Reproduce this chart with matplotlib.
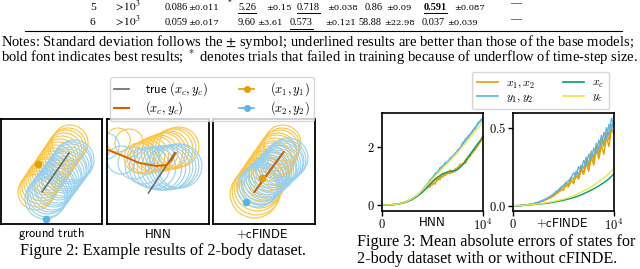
import numpy as np
import matplotlib
matplotlib.use('Agg')
import matplotlib.pyplot as plt
from matplotlib.patches import Circle
from matplotlib.lines import Line2D

plt.rcParams['mathtext.fontset'] = 'cm'
plt.rcParams['font.family'] = 'Liberation Serif'

W, H = 640, 269

# ---- table fragment ----
row_ids = ['5', '6']
row_mean = [['0.086', '5.26', '0.718', '0.86', '0.591'],
            ['0.059', '9.60', '0.573', '58.88', '0.037']]
row_std = [['±0.011', '±0.15', '±0.038', '±0.09', '±0.087'],
           ['±0.017', '±3.61', '±0.121', '±22.98', '±0.039']]
row_under = [[False, True, True, False, True],
             [False, False, True, False, False]]
row_bold = [[False, False, False, False, True],
            [False, False, False, False, False]]

notes = ['Notes: Standard deviation follows the $\\pm$ symbol; underlined results are better than those of the base models;',
         'bold font indicates best results; $^*$ denotes trials that failed in training because of underflow of time-step size.']

# ---- figure 2: ring centres / radii (panel units) ----
gt_o_cx = [35, 37, 39, 41, 43, 45, 47, 49, 51, 53, 55, 57, 59, 61, 63, 65, 67, 69]
gt_o_cy = [32, 35, 38, 41, 44, 47, 49, 52, 55, 58, 61, 64, 67, 70, 73, 76, 78, 81]
gt_o_r = [18] * 18
gt_b_cx = [44, 46, 47, 49, 51, 53, 54, 56, 58, 60, 61, 63, 65, 66, 68, 70, 71, 73]
gt_b_cy = [25, 27, 30, 32, 34, 37, 39, 41, 44, 46, 48, 51, 53, 55, 57, 60, 62, 64]
gt_b_r = [20] * 18
gt_true = ([41, 68], [32, 71])
gt_pred = None
gt_dots = ((37, 60), (45, 5))

hnn_o_cx = [11, 22, 32, 36, 40, 44, 48, 52, 56, 59, 62, 65, 68, 71]
hnn_o_cy = [84, 81, 66, 66, 67, 69, 70, 71, 72, 73, 74, 75, 76, 77]
hnn_o_r = [12, 14, 15, 16, 17, 17, 18, 18, 19, 19, 19, 20, 20, 20]
hnn_b_cx = [-1, 14, 27, 36, 42, 47, 52, 56, 60, 63, 66, 69, 72]
hnn_b_cy = [78, 64, 61, 58, 57, 56, 56, 56, 56, 57, 57, 58, 58]
hnn_b_r = [13, 14, 16, 18, 20, 21, 22, 22, 22, 22, 22, 22, 22]
hnn_true = ([41, 67], [31, 71])
hnn_pred = ([1, 16, 32, 49, 59, 64, 68], [74, 68, 61, 58, 59, 64, 71])
hnn_dots = None

cf_o_cx = [41, 43, 44, 46, 48, 49, 51, 53, 54, 56, 58, 59, 61, 63, 64, 66, 68, 69]
cf_o_cy = [30, 33, 36, 39, 42, 45, 48, 51, 54, 57, 60, 63, 66, 69, 72, 75, 78, 81]
cf_o_r = [24, 24, 23, 23, 23, 22, 22, 22, 21, 21, 21, 20, 20, 20, 19, 19, 18, 18]
cf_b_cx = [44, 46, 48, 49, 51, 53, 55, 56, 58, 60, 62, 63, 65, 67, 69, 70, 72, 74]
cf_b_cy = [37, 39, 40, 42, 44, 46, 47, 49, 51, 52, 54, 56, 58, 59, 61, 63, 64, 66]
cf_b_r = [20] * 18
cf_true = ([41, 69], [32, 71])
cf_pred = ([41, 70], [32, 72])
cf_dots = ((49, 46), (33, 22))

# ---- figure 3: mean absolute errors ----
steps = np.linspace(0, 10000, 41)
steps_s = np.linspace(0, 10000, 21)

hnn_x1 = [0, 0, 0, 0.005, 0.01, 0.02, 0.03, 0.04, 0.06, 0.09, 0.12, 0.16, 0.20, 0.25, 0.31, 0.38, 0.47, 0.55, 0.68, 0.62,
          0.80, 0.72, 0.95, 0.88, 1.10, 1.02, 1.15, 1.08, 1.20, 1.16, 1.28, 1.35, 1.46, 1.44, 1.62, 1.70, 1.86, 1.92, 2.10, 2.18, 2.45]
hnn_x2 = [0, 0, 0, 0.005, 0.01, 0.02, 0.03, 0.05, 0.07, 0.09, 0.13, 0.17, 0.21, 0.27, 0.33, 0.40, 0.52, 0.60, 0.58, 0.75,
          0.70, 0.90, 0.85, 1.00, 0.96, 1.12, 1.08, 1.22, 1.12, 1.25, 1.30, 1.42, 1.40, 1.56, 1.66, 1.78, 1.82, 2.00, 2.05, 2.25, 2.40]
hnn_y1 = [0, 0, 0, 0.005, 0.01, 0.02, 0.03, 0.05, 0.07, 0.10, 0.13, 0.17, 0.22, 0.28, 0.35, 0.43, 0.52, 0.62, 0.74, 0.84,
          0.96, 1.04, 1.16, 1.22, 1.36, 1.40, 1.52, 1.58, 1.70, 1.80, 1.86, 2.00, 2.10, 2.30, 2.32, 2.48, 2.56, 2.72, 2.80, 2.96, 3.04]
hnn_y2 = [0, 0, 0, 0.005, 0.01, 0.02, 0.03, 0.05, 0.07, 0.10, 0.13, 0.17, 0.22, 0.28, 0.34, 0.42, 0.50, 0.64, 0.70, 0.88,
          0.92, 1.10, 1.12, 1.30, 1.32, 1.48, 1.46, 1.64, 1.66, 1.78, 1.92, 1.96, 2.18, 2.20, 2.40, 2.44, 2.62, 2.66, 2.86, 2.90, 2.98]
hnn_xc = [0, 0, 0.01, 0.025, 0.06, 0.11, 0.19, 0.30, 0.44, 0.62, 0.82, 0.97, 1.08, 1.15, 1.18, 1.23, 1.40, 1.64, 1.90, 2.14, 2.36]
hnn_yc = [0, 0, 0.01, 0.03, 0.07, 0.13, 0.22, 0.34, 0.51, 0.71, 0.91, 1.10, 1.28, 1.46, 1.64, 1.83, 2.04, 2.26, 2.48, 2.68, 2.90]

cf_x1 = [0, 0, 0, 0.001, 0.002, 0.004, 0.006, 0.008, 0.011, 0.015, 0.019, 0.025, 0.030, 0.038, 0.045, 0.052, 0.062, 0.075, 0.085, 0.10,
         0.11, 0.13, 0.12, 0.16, 0.15, 0.19, 0.17, 0.23, 0.20, 0.27, 0.22, 0.31, 0.26, 0.36, 0.30, 0.39, 0.33, 0.44, 0.38, 0.49, 0.46]
cf_x2 = [0, 0, 0, 0.001, 0.002, 0.004, 0.006, 0.009, 0.012, 0.016, 0.020, 0.026, 0.032, 0.040, 0.048, 0.056, 0.066, 0.078, 0.090, 0.108,
         0.098, 0.14, 0.13, 0.17, 0.14, 0.21, 0.18, 0.25, 0.21, 0.29, 0.25, 0.34, 0.29, 0.38, 0.33, 0.43, 0.38, 0.47, 0.42, 0.52, 0.50]
cf_y1 = [0, 0, 0, 0.001, 0.003, 0.005, 0.007, 0.010, 0.013, 0.017, 0.022, 0.028, 0.034, 0.042, 0.050, 0.060, 0.072, 0.085, 0.100, 0.115,
         0.125, 0.145, 0.140, 0.18, 0.17, 0.22, 0.20, 0.26, 0.24, 0.31, 0.27, 0.35, 0.31, 0.40, 0.36, 0.45, 0.40, 0.50, 0.45, 0.56, 0.52]
cf_y2 = [0, 0, 0, 0.001, 0.003, 0.005, 0.007, 0.010, 0.013, 0.018, 0.023, 0.029, 0.036, 0.044, 0.053, 0.063, 0.075, 0.09, 0.10, 0.12,
         0.13, 0.15, 0.16, 0.18, 0.21, 0.20, 0.25, 0.23, 0.29, 0.26, 0.33, 0.30, 0.37, 0.34, 0.42, 0.38, 0.47, 0.43, 0.52, 0.48, 0.57]
cf_xc = [0, 0.001, 0.002, 0.004, 0.007, 0.010, 0.013, 0.017, 0.022, 0.028, 0.035, 0.043, 0.052, 0.063, 0.077, 0.092, 0.108, 0.127, 0.148, 0.172, 0.205]
cf_yc = [0, 0.001, 0.002, 0.005, 0.008, 0.012, 0.016, 0.021, 0.027, 0.034, 0.042, 0.051, 0.062, 0.080, 0.095, 0.110, 0.132, 0.155, 0.180, 0.205, 0.240]

ORANGE, SKY, GREEN, YELLOW, VERM = '#E69F00', '#56B4E9', '#009E73', '#F0E442', '#D55E00'
RING_O, RING_B = '#FDC443', '#97D0F0'

fig = plt.figure(figsize=(W / 100, H / 100), dpi=100)


def fx(x):
    return x / W


def fy(y):
    return 1 - y / H


def px_axes(x0, y0, x1, y1):
    return fig.add_axes([fx(x0), fy(y1), (x1 - x0) / W, (y1 - y0) / H])


# table rows
mean_x = [[165, 238, 297, 365, 424], [165, 238, 290, 358, 422]]
std_x = [[188, 266, 327, 386, 454], [188, 257, 325, 384, 447]]
base_y = [9.5, 25]
underlined = []
for i in range(2):
    fig.text(fx(90), fy(base_y[i]), row_ids[i], fontsize=8.2, va='baseline')
    fig.text(fx(114), fy(base_y[i]), r'$>\!10^3$', fontsize=8.2, va='baseline', math_fontfamily='stix')
    for j in range(5):
        t = fig.text(fx(mean_x[i][j]), fy(base_y[i]), row_mean[i][j], fontsize=7.4, va='baseline',
                     fontweight='bold' if row_bold[i][j] else 'normal')
        if row_under[i][j]:
            underlined.append(t)
        fig.text(fx(std_x[i][j]), fy(base_y[i]), row_std[i][j], fontsize=6.0, va='baseline', family='DejaVu Serif')
    fig.text(fx(510), fy(base_y[i] - 3), '—', fontsize=8, va='baseline')
fig.text(fx(228), fy(5), '*', fontsize=5.5, va='baseline')
fig.add_artist(Line2D([fx(25), fx(622)], [fy(31), fy(31)], color='black', lw=0.8))

fig.text(fx(1), fy(46), notes[0], fontsize=10.5, va='baseline', math_fontfamily='stix')
fig.text(fx(1), fy(62), notes[1], fontsize=10.5, va='baseline', math_fontfamily='stix')

# figure 2 panels
panels = [
    ((1, 119, 102, 224), gt_o_cx, gt_o_cy, gt_o_r, gt_b_cx, gt_b_cy, gt_b_r, gt_true, gt_pred, gt_dots),
    ((107, 119, 209, 224), hnn_o_cx, hnn_o_cy, hnn_o_r, hnn_b_cx, hnn_b_cy, hnn_b_r, hnn_true, hnn_pred, hnn_dots),
    ((213, 119, 315, 224), cf_o_cx, cf_o_cy, cf_o_r, cf_b_cx, cf_b_cy, cf_b_r, cf_true, cf_pred, cf_dots),
]
for box, ocx, ocy, orr, bcx, bcy, brr, true, pred, dots in panels:
    ax = px_axes(*box)
    for cx, cy, r in zip(ocx, ocy, orr):
        ax.add_patch(Circle((cx, cy), r, fill=False, ec=RING_O, lw=0.8))
    for cx, cy, r in zip(bcx, bcy, brr):
        ax.add_patch(Circle((cx, cy), r, fill=False, ec=RING_B, lw=0.8))
    ax.plot(true[0], true[1], color='#666666', lw=1.1)
    if pred is not None:
        ax.plot(pred[0], pred[1], color=VERM, lw=1.3)
    if dots is not None:
        ax.plot(*dots[0], 'o', color=ORANGE, ms=4.5)
        ax.plot(*dots[1], 'o', color=SKY, ms=4.5)
    ax.set_xlim(0, 101)
    ax.set_ylim(0, 105)
    ax.set_xticks([])
    ax.set_yticks([])
    for s in ax.spines.values():
        s.set_linewidth(1.3)

fig2_labels = [r'$\mathsf{ground\ truth}$', r'$\mathsf{HNN}$', r'$\mathsf{+cFINDE}$']
for lab, xc in zip(fig2_labels, [52, 158, 262]):
    fig.text(fx(xc), fy(234), lab, fontsize=9, ha='center', va='center')

h2 = [Line2D([], [], color='#666666', lw=1.2), Line2D([], [], color=VERM, lw=1.5),
      Line2D([], [], color=ORANGE, lw=1.2, marker='o', ms=4), Line2D([], [], color=SKY, lw=1.2, marker='o', ms=4)]
l2 = [r'$\mathsf{true}\ (x_c, y_c)$', r'$(x_c, y_c)$', r'$(x_1, y_1)$', r'$(x_2, y_2)$']
fig.legend(h2, l2, ncol=2, loc='upper left', bbox_to_anchor=(fx(110), fy(77)), fontsize=9,
           borderaxespad=0, handlelength=1.2, columnspacing=2.5, labelspacing=0.1, borderpad=0.3, handletextpad=1.3)
fig.text(fx(20), fy(255), 'Figure 2: Example results of 2-body dataset.', fontsize=11.6, va='baseline')

# figure 3 panels
for box, x1, x2, y1, y2, xc, yc, ylim, yt, ytl in [
        ((382, 113, 483, 211), hnn_x1, hnn_x2, hnn_y1, hnn_y2, hnn_xc, hnn_yc, (-0.21, 3.2), [0, 2], ['$0$', '$2$']),
        ((513, 113, 614, 211), cf_x1, cf_x2, cf_y1, cf_y2, cf_xc, cf_yc, (-0.034, 0.594), [0, 0.5], ['$0.0$', '$0.5$'])]:
    ax = px_axes(*box)
    ax.plot(steps, x1, color=ORANGE, lw=1.0)
    ax.plot(steps, y1, color=SKY, lw=1.0)
    ax.plot(steps, x2, color=ORANGE, lw=1.0)
    ax.plot(steps, y2, color=SKY, lw=1.0)
    ax.plot(steps_s, xc, color=GREEN, lw=1.0)
    ax.plot(steps_s, yc, color=YELLOW, lw=1.0)
    ax.set_xlim(0, 10000)
    ax.set_ylim(*ylim)
    ax.set_xticks([0, 10000])
    ax.set_xticklabels(['$0$', '$10^4$'])
    ax.set_yticks(yt)
    ax.set_yticklabels(ytl)
    ax.tick_params(labelsize=9, length=3.5, width=1.0, pad=1.5)
    for s in ax.spines.values():
        s.set_linewidth(1.2)

fig.text(fx(432), fy(223), r'$\mathsf{HNN}$', fontsize=9, ha='center', va='center')
fig.text(fx(562), fy(223), r'$\mathsf{+cFINDE}$', fontsize=9, ha='center', va='center')

h3 = [Line2D([], [], color=ORANGE, lw=1.2), Line2D([], [], color=SKY, lw=1.2),
      Line2D([], [], color=GREEN, lw=1.2), Line2D([], [], color=YELLOW, lw=1.2)]
l3 = [r'$x_1, x_2$', r'$y_1, y_2$', r'$x_c$', r'$y_c$']
fig.legend(h3, l3, ncol=2, loc='upper left', bbox_to_anchor=(fx(472), fy(72)), fontsize=8.5,
           borderaxespad=0, handlelength=1.8, columnspacing=2.3, labelspacing=0.1, borderpad=0.4, handletextpad=0.7)
fig.text(fx(357), fy(246), 'Figure 3: Mean absolute errors of states for', fontsize=11.6, va='baseline')
fig.text(fx(357), fy(263), '2-body dataset with or without cFINDE.', fontsize=11.6, va='baseline')

# underlines under the marked table entries
fig.canvas.draw()
for t in underlined:
    bb = t.get_window_extent()
    yb = bb.y0 - 1.5
    fig.add_artist(Line2D([bb.x0 / W, bb.x1 / W], [yb / H, yb / H], color='black', lw=0.7))

fig.savefig('out.png', dpi=100)
